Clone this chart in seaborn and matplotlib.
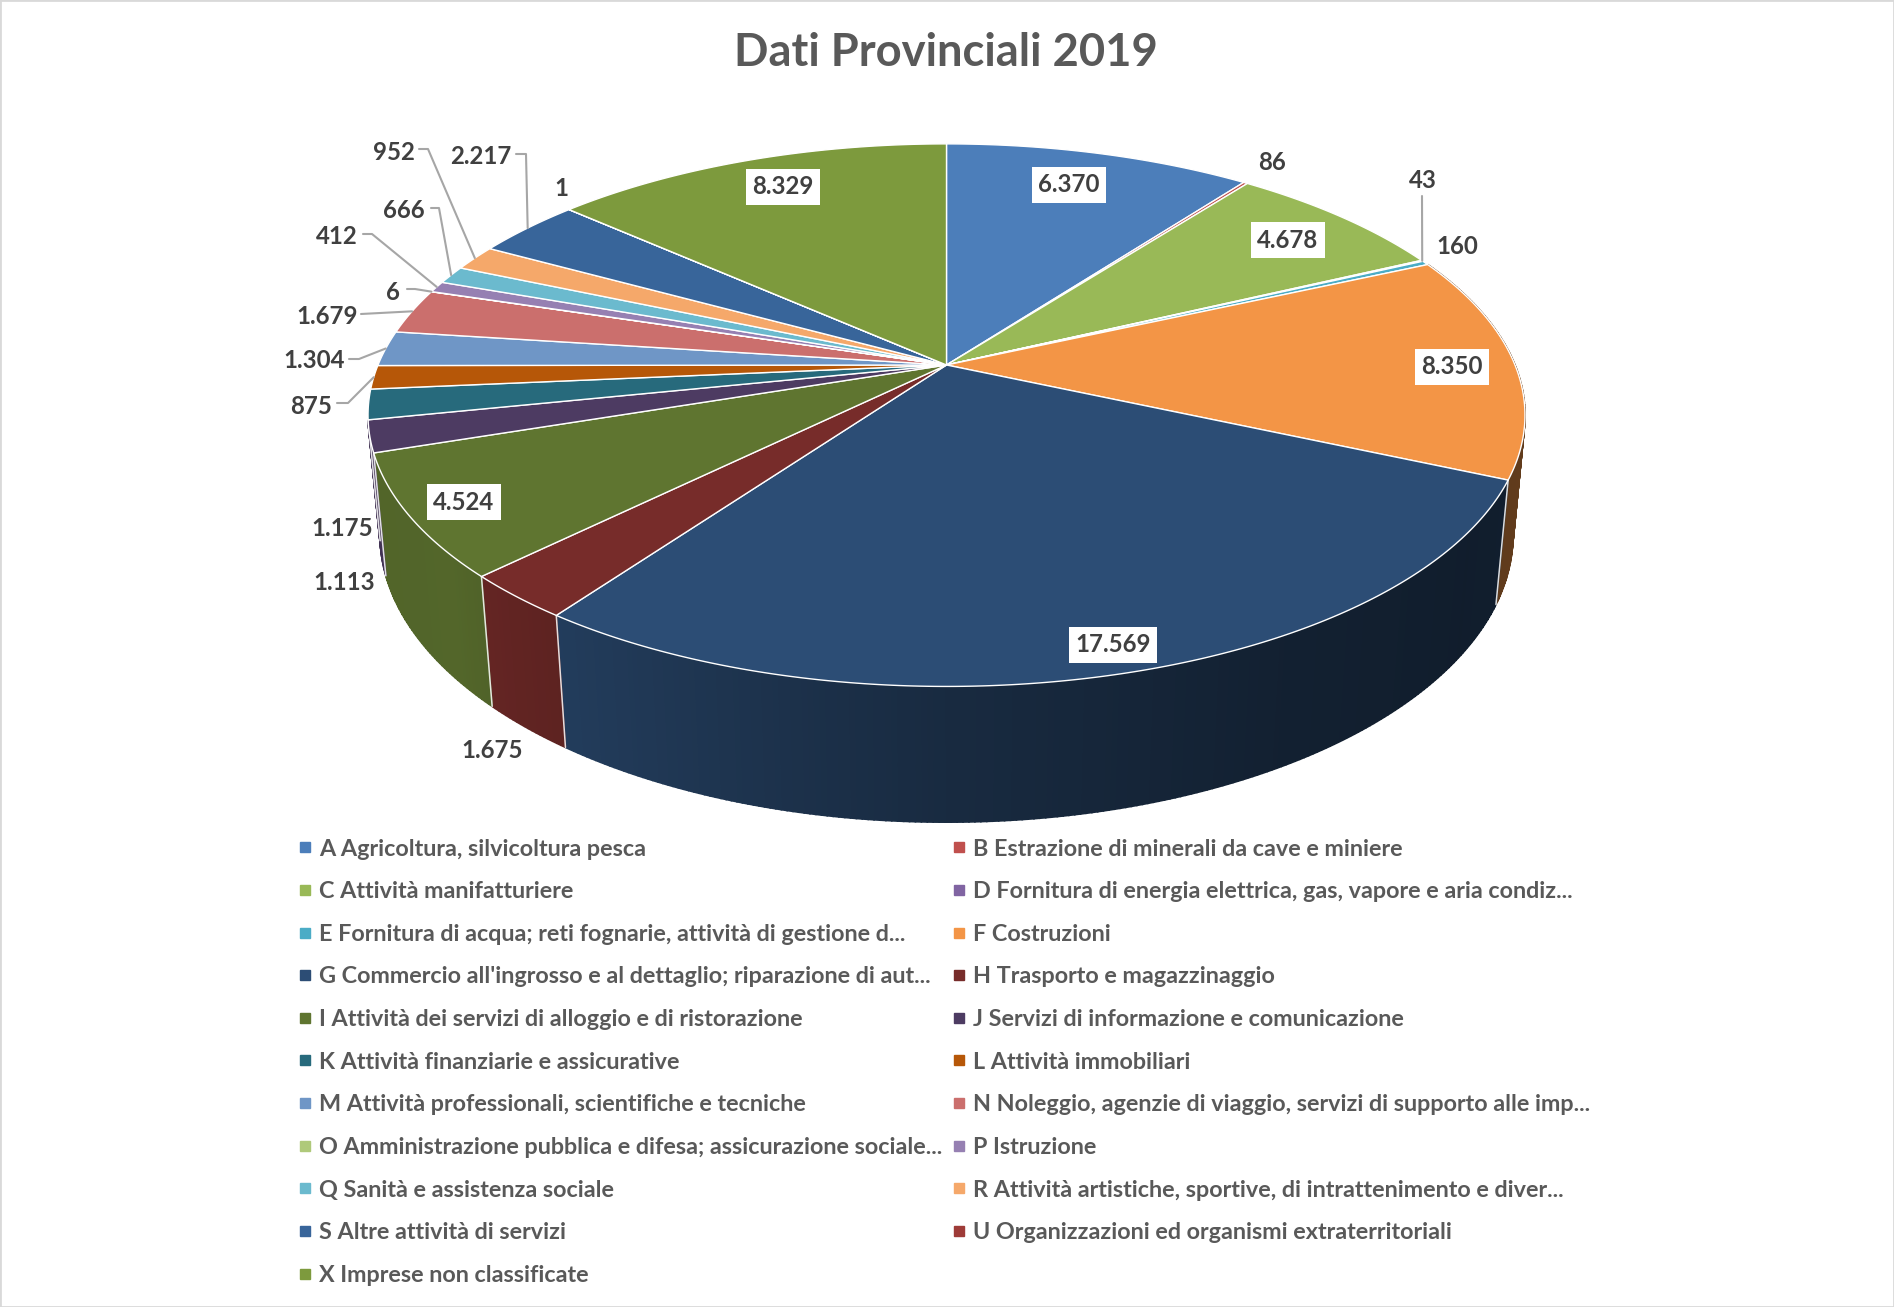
import numpy as np
import matplotlib
matplotlib.use("Agg")
import matplotlib.pyplot as plt
from matplotlib.lines import Line2D
import seaborn as sns

categories = [
    "A Agricoltura, silvicoltura pesca",
    "B Estrazione di minerali da cave e miniere",
    "C Attività manifatturiere",
    "D Fornitura di energia elettrica, gas, vapore e aria condiz...",
    "E Fornitura di acqua; reti fognarie, attività di gestione d...",
    "F Costruzioni",
    "G Commercio all'ingrosso e al dettaglio; riparazione di aut...",
    "H Trasporto e magazzinaggio",
    "I Attività dei servizi di alloggio e di ristorazione",
    "J Servizi di informazione e comunicazione",
    "K Attività finanziarie e assicurative",
    "L Attività immobiliari",
    "M Attività professionali, scientifiche e tecniche",
    "N Noleggio, agenzie di viaggio, servizi di supporto alle imp...",
    "O Amministrazione pubblica e difesa; assicurazione sociale...",
    "P Istruzione",
    "Q Sanità e assistenza sociale",
    "R Attività artistiche, sportive, di intrattenimento e diver...",
    "S Altre attività di servizi",
    "U Organizzazioni ed organismi extraterritoriali",
    "X Imprese non classificate",
]
values = [6370, 86, 4678, 43, 160, 8350, 17569, 1675, 4524, 1175, 1113,
          875, 1304, 1679, 6, 412, 666, 952, 2217, 1, 8329]
colors = ["#4C7EBA", "#C0504D", "#99B957", "#8064A2", "#4BACC6", "#F39546",
          "#2C4D75", "#772C2A", "#5F7530", "#4D3B62", "#276A7C", "#B65708",
          "#6F96C6", "#CB6F6D", "#AFC97A", "#9680B2", "#6BBACE", "#F5A86A",
          "#38659A", "#9E3B38", "#7D9A3D"]

# label centres in pixels, same order as values
label_x = [1069, 1272, 1288, 1423, 1457, 1452, 1113, 492, 464, 342, 344,
           311, 314, 327, 393, 337, 404, 394, 481, 561, 783]
label_y = [185, 162, 240, 180, 246, 367, 645, 751, 502, 529, 582,
           406, 361, 316, 292, 237, 210, 153, 157, 188, 187]
boxed = ["A", "C", "F", "G", "I", "X"]

# elbow of the leader lines, index of slice -> list of points before the rim
leaders = {
    3: [(1422, 196)],
    12: [(349, 359), (359, 359)],
    11: [(337, 403), (348, 403)],
    13: [(361, 314)],
    14: [(407, 289), (415, 289)],
    15: [(363, 234), (372, 234)],
    16: [(431, 208), (439, 208)],
    17: [(419, 149), (428, 149)],
    18: [(516, 154), (526, 154)],
}

# projection of the tilted disc
CX, CY = 946.5, 365
A, B, C = 568.5, 262, 120
K, KZ = 0.1849, 0.0205


def project(theta, z=0.0):
    x, y = np.sin(theta), np.cos(theta)
    w = 1 + K * y + KZ * z
    return CX + A * x / w, CY + (C * z - B * y) / w


def wall_shade(deg):
    return np.interp(deg, [90, 125, 150, 180, 210, 230, 280],
                     [0.42, 0.38, 0.42, 0.55, 0.75, 0.87, 0.85])


sns.set_theme(style="white")
plt.rcParams["font.family"] = ["Lato", "DejaVu Sans"]

fig, ax = plt.subplots(figsize=(18.94, 13.07), dpi=100)
ax.set_position([0, 0, 1, 1])
ax.set_xlim(0, 1894)
ax.set_ylim(1307, 0)
ax.set_xticks([])
ax.set_yticks([])
for s in ax.spines.values():
    s.set_color("#D9D9D9")
    s.set_linewidth(2)

palette = sns.color_palette(colors)
edges = np.concatenate([[0], np.cumsum(values)]) / sum(values) * 2 * np.pi

# side wall, only the slices that face the viewer
for i, rgb in enumerate(palette):
    lo, hi = edges[i], edges[i + 1]
    if hi < np.radians(80) or lo > np.radians(255):
        continue
    n = max(2, int(np.degrees(hi - lo) / 0.5))
    steps = np.linspace(lo, hi, n + 1)
    for t0, t1 in zip(steps[:-1], steps[1:]):
        arc = np.linspace(t0, t1, 3)
        tx, ty = project(arc)
        bx, by = project(arc[::-1], 1.0)
        shade = wall_shade(np.degrees((t0 + t1) / 2))
        col = tuple(c * shade for c in rgb)
        ax.fill(np.r_[tx, bx], np.r_[ty, by], color=col, lw=1.2, zorder=2)

for t in edges[:-1]:
    if np.radians(100) < t < np.radians(262):
        tx, ty = project(t)
        bx, by = project(t, 1.0)
        ax.plot([tx, bx], [ty, by], color="white", lw=1.1, alpha=0.85, zorder=3)

# top face
for i, rgb in enumerate(palette):
    arc = np.linspace(edges[i], edges[i + 1], max(3, int((edges[i + 1] - edges[i]) * 100)))
    px, py = project(arc)
    ax.fill(np.r_[CX, px], np.r_[CY, py], facecolor=rgb, edgecolor="white",
            lw=1.0, zorder=4, joinstyle="round")

# leader lines
for i, pts in leaders.items():
    mid = (edges[i] + edges[i + 1]) / 2
    ex, ey = project(mid)
    xs = [p[0] for p in pts] + [ex]
    ys = [p[1] for p in pts] + [ey]
    ax.plot(xs, ys, color="#A6A6A6", lw=1.5, zorder=5)

# data labels
for i, v in enumerate(values):
    txt = f"{v:,}".replace(",", ".")
    box = None
    if categories[i][0] in boxed:
        box = dict(boxstyle="square,pad=0.25", fc="white", ec="none")
    ax.text(label_x[i], label_y[i], txt, ha="center", va="center", fontsize=17.3,
            fontweight="bold", color="#404040", bbox=box, zorder=6)

ax.text(946, 53, "Dati Provinciali 2019", ha="center", va="center", fontsize=32.7,
        fontweight="bold", color="#595959")

# legend filled row by row like the original
handles = [Line2D([], [], marker="s", ls="none", ms=6.5, color=c) for c in palette]
order = list(range(0, len(values), 2)) + list(range(1, len(values), 2))
leg = ax.legend([handles[i] for i in order], [categories[i] for i in order],
                ncols=2, loc="upper left", bbox_to_anchor=(299, 838.5),
                bbox_transform=ax.transData, frameon=False,
                labelspacing=0.927, handlelength=0.55, handletextpad=0.32,
                columnspacing=0.45, borderpad=0, borderaxespad=0,
                prop=dict(size=16.8, weight="bold"))
for t in leg.get_texts():
    t.set_color("#595959")

fig.savefig("out.png", dpi=100)
